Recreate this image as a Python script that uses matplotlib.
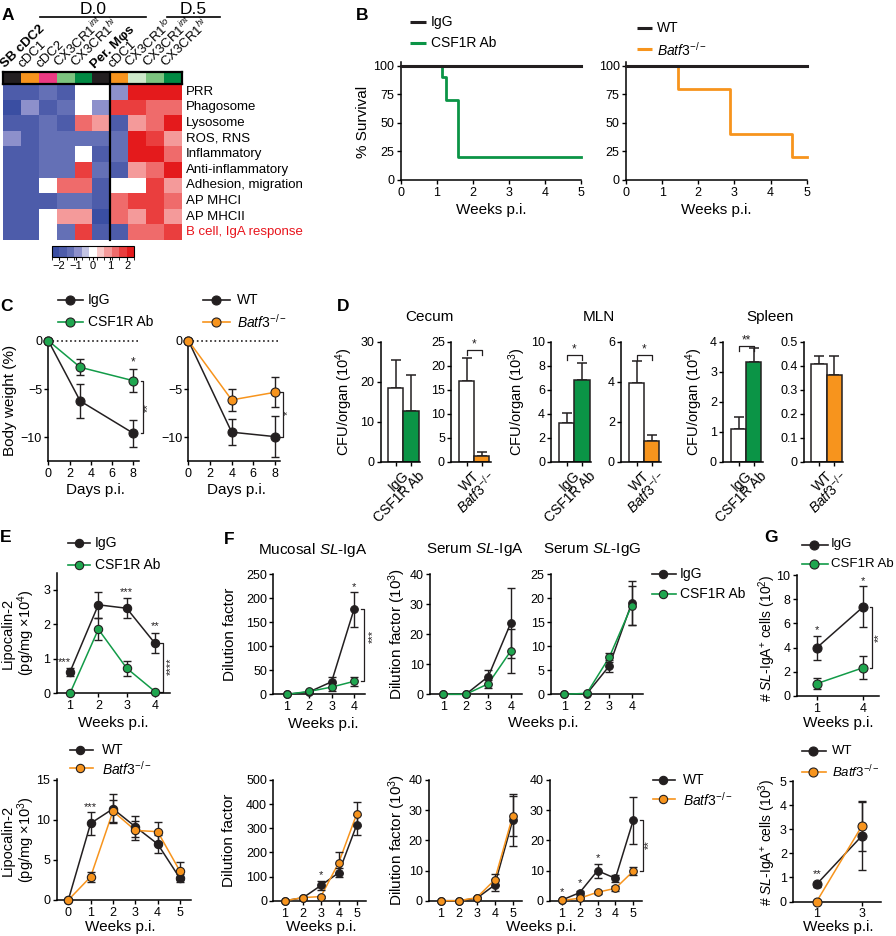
import numpy as np
import matplotlib
matplotlib.use("Agg")
import matplotlib.pyplot as plt
from matplotlib.colors import ListedColormap, BoundaryNorm, to_rgb
from matplotlib.lines import Line2D
from matplotlib.transforms import ScaledTranslation

plt.rcParams["font.family"] = ["Liberation Sans", "DejaVu Sans"]
plt.rcParams["mathtext.fontset"] = "custom"
plt.rcParams["mathtext.rm"] = "Liberation Sans"
plt.rcParams["mathtext.it"] = "Liberation Sans:italic"
plt.rcParams["mathtext.bf"] = "Liberation Sans:bold"
plt.rcParams["axes.linewidth"] = 1.1
plt.rcParams["xtick.labelsize"] = 9
plt.rcParams["ytick.labelsize"] = 9
plt.rcParams["xtick.major.width"] = 1.0
plt.rcParams["ytick.major.width"] = 1.0
plt.rcParams["xtick.major.size"] = 3
plt.rcParams["ytick.major.size"] = 3
plt.rcParams["xtick.major.pad"] = 2
plt.rcParams["ytick.major.pad"] = 1.5

BLACK = "#231f20"
GREEN_LINE = "#129b48"
GREEN_FILL = "#1fa64f"
GREEN_BAR = "#0b9446"
ORANGE = "#f7941d"
RED_TXT = "#e8141c"
BATF = r"$\it{Batf3}^{-/-}$"

# ---------------- data ----------------
# A heatmap
hm_cols = ["SB cDC2", "cDC1", "cDC2", "CX3CR1$^{int}$", "CX3CR1$^{hi}$", "Per. M\u03c6s",
           "cDC1", "CX3CR1$^{lo}$", "CX3CR1$^{int}$", "CX3CR1$^{hi}$"]
hm_bold = [True, False, False, False, False, True, False, False, False, False]
hm_rows = ["PRR", "Phagosome", "Lysosome", "ROS, RNS", "Inflammatory", "Anti-inflammatory",
           "Adhesion, migration", "AP MHCI", "AP MHCII", "B cell, IgA response"]
hm_vals = np.array([
    [-1.75, -1.75, -1.3, -1.75, 0, 0, -0.9, 2.0, 2.0, 2.0],
    [-2.2, -0.9, -1.75, -1.3, 0, -0.9, 1.75, 1.75, 1.3, 1.3],
    [-1.75, -1.75, -1.3, -1.75, 1.3, 0.9, -1.75, 0.9, 1.3, 2.2],
    [-0.9, -1.75, -1.3, -1.3, -1.3, -1.3, -1.3, 2.2, 1.75, 0.9],
    [-1.75, -1.75, -1.3, -1.3, 0, -1.75, -1.3, 2.2, 2.0, 1.3],
    [-1.75, -1.75, -1.3, -1.3, 1.75, -1.3, -1.75, 0.9, 1.3, 2.2],
    [-1.75, -1.75, 0, 1.3, 1.3, -1.75, 0, 0, 1.75, 0.9],
    [-1.75, -1.75, -1.75, -1.3, -1.3, -1.75, 1.3, 1.75, 1.75, 1.3],
    [-1.75, -1.75, 0, 0.9, 0.9, -2.2, 1.3, 0.9, 1.75, 0.9],
    [-1.75, -1.75, 0, -1.3, 1.75, -1.75, -1.75, 1.3, 1.3, 1.75],
])
strip_colors = ["#231f20", "#f7941d", "#ec3a83", "#7cc47f", "#008a43",
                "#231f20", "#f7941d", "#cde8c9", "#7cc47f", "#008a43"]
hm_bins = ["#3a4ea2", "#4d5caa", "#6470b6", "#8d90cb", "#c3c4e3", "#ffffff",
           "#f9c9c9", "#f49a9a", "#ef6b6b", "#ea3e3e", "#e41a1c"]

# B survival
km_ctrl_t = [0, 5]
km_ctrl_s = [100, 100]
km_csf_t = [0, 1.13, 1.26, 1.58, 5]
km_csf_s = [100, 90, 70, 20, 20]
km_batf_t = [0, 1.45, 2.87, 4.58, 5]
km_batf_s = [100, 80, 40, 20, 20]

# C body weight
c_days_a = [0, 3, 8]
c_igg = [0, -6.24, -9.58]
c_igg_err = [0, 1.75, 1.4]
c_csf = [0, -2.75, -4.14]
c_csf_err = [0, 0.85, 1.17]
c_days_b = [0, 4, 8]
c_wt = [0, -9.47, -9.93]
c_wt_err = [0, 1.35, 2.15]
c_batf = [0, -6.13, -5.34]
c_batf_err = [0, 1.12, 1.55]

# D CFU
d_lab_csf = ["IgG", "CSF1R Ab"]
d_lab_batf = ["WT", BATF]
d_cecum_csf = [18.5, 12.75]
d_cecum_csf_err = [6.9, 8.95]
d_cecum_batf = [16.9, 1.25]
d_cecum_batf_err = [4.8, 0.7]
d_mln_csf = [3.25, 6.8]
d_mln_csf_err = [0.78, 1.45]
d_mln_batf = [3.95, 1.05]
d_mln_batf_err = [1.1, 0.3]
d_spl_csf = [1.08, 3.33]
d_spl_csf_err = [0.42, 0.45]
d_spl_batf = [0.407, 0.361]
d_spl_batf_err = [0.033, 0.079]

# E lipocalin
e_weeks_a = [1, 2, 3, 4]
e_igg = [0.62, 2.57, 2.47, 1.45]
e_igg_err = [0.12, 0.38, 0.29, 0.29]
e_csf = [0, 1.86, 0.73, 0.05]
e_csf_err = [0, 0.32, 0.22, 0]
e_weeks_b = [0, 1, 2, 3, 4, 5]
e_wt = [0, 9.58, 11.4, 9.16, 7.0, 2.7]
e_wt_err = [0, 1.4, 1.8, 1.3, 1.15, 0.5]
e_batf = [0, 2.9, 11.1, 8.7, 8.54, 3.6]
e_batf_err = [0, 0.6, 1.4, 1.2, 1.25, 1.1]

# F antibody titres
f_weeks_a = [1, 2, 3, 4]
f_muc_igg = [0, 5, 26, 177]
f_muc_igg_err = [0, 2, 10, 36]
f_muc_csf = [0, 6, 15, 27]
f_muc_csf_err = [0, 2, 8, 10]
f_sia_igg = [0, 0, 5.9, 23.7]
f_sia_igg_err = [0, 0, 2.3, 11.7]
f_sia_csf = [0, 0, 3.5, 14.4]
f_sia_csf_err = [0, 0, 1.3, 7.4]
f_sig_igg = [0, 0.1, 5.9, 19.0]
f_sig_igg_err = [0, 0, 1.2, 4.6]
f_sig_csf = [0, 0.2, 7.7, 18.5]
f_sig_csf_err = [0, 0, 1.0, 4.0]
f_weeks_b = [1, 2, 3, 4, 5]
f_muc_wt = [0, 12, 63, 116, 314]
f_muc_wt_err = [0, 3, 17, 18, 43]
f_muc_batf = [0, 13, 17, 158, 359]
f_muc_batf_err = [0, 3, 4, 45, 48]
f_sia_wt = [0, 0, 0.8, 5.2, 26.7]
f_sia_wt_err = [0, 0, 0.3, 2.0, 8.6]
f_sia_batf = [0, 0, 1.0, 6.9, 28.1]
f_sia_batf_err = [0, 0, 0.3, 1.8, 6.5]
f_sig_wt = [0.2, 2.65, 9.95, 7.4, 26.7]
f_sig_wt_err = [0, 0.6, 2.3, 1.1, 7.8]
f_sig_batf = [0.1, 0.8, 2.8, 4.1, 9.8]
f_sig_batf_err = [0, 0.3, 0.5, 0.8, 1.3]

# G SL-IgA+ cells
g_weeks_a = [1, 4]
g_igg = [3.98, 7.38]
g_igg_err = [1.0, 1.7]
g_csf = [1.02, 2.34]
g_csf_err = [0.45, 0.97]
g_weeks_b = [1, 3]
g_wt = [0.72, 2.72]
g_wt_err = [0.1, 1.4]
g_batf = [0, 3.13]
g_batf_err = [0, 1.05]

# ---------------- figure helpers ----------------
W, H = 896, 936
fig = plt.figure(figsize=(W / 100, H / 100), dpi=100)


def fx(x):
    return x / W


def fy(y):
    return 1 - y / H


def add_ax(x0, x1, y0, y1):
    return fig.add_axes([x0 / W, 1 - y1 / H, (x1 - x0) / W, (y1 - y0) / H])


def ftext(x, y, s, **kw):
    fig.text(fx(x), fy(y), s, **kw)


def fline(xs, ys, **kw):
    fig.add_artist(Line2D([fx(v) for v in xs], [fy(v) for v in ys],
                          transform=fig.transFigure, **kw))


def cal_ax(xa, va, xb, vb, xlim, ya, wa, yb, wb, ylim, xticks, yticks):
    sx = (xb - xa) / (vb - va)
    sy = (yb - ya) / (wb - wa)
    x0 = xa + (xlim[0] - va) * sx
    x1 = xa + (xlim[1] - va) * sx
    ytop = ya + (ylim[1] - wa) * sy
    ybot = ya + (ylim[0] - wa) * sy
    ax = add_ax(x0, x1, ytop, ybot)
    ax.set_xlim(*xlim)
    ax.set_ylim(*ylim)
    ax.set_xticks(xticks)
    ax.set_yticks(yticks)
    ax.spines["top"].set_visible(False)
    ax.spines["right"].set_visible(False)
    ax.patch.set_alpha(0)
    return ax


def series(ax, x, y, err, lc, mfc, ms=6.5, z=3):
    ax.plot(x, y, color=lc, lw=1.1, zorder=z, clip_on=False)
    ax.errorbar(x, y, yerr=err, fmt="none", ecolor=BLACK, elinewidth=1.0,
                capsize=3, capthick=1.0, zorder=z + 0.1, clip_on=False)
    ax.plot(x, y, "o", ms=ms, mfc=mfc, mec=BLACK, mew=0.8, zorder=z + 0.2, clip_on=False)


def star(ax, x, y, s, rot=0, fs=8.5):
    ax.text(x, y, s, ha="center", va="center", rotation=rot, fontsize=fs, color=BLACK)


def vbracket(ax, x, y0, y1, dx, s, tx, ty):
    ax.plot([x - dx, x, x, x - dx], [y0, y0, y1, y1], color=BLACK, lw=0.9, clip_on=False)
    star(ax, tx, ty, s, rot=90, fs=8)


def hbracket(ax, y, dy, s, ys):
    ax.plot([0, 0, 1, 1], [y - dy, y, y, y - dy], color=BLACK, lw=0.9, clip_on=False)
    star(ax, 0.5, ys, s)


def leg_line(x0, x1, y, color, label, xt):
    fline([x0, x1], [y, y], color=color, lw=2.2, solid_capstyle="butt")
    ftext(xt, y, label, ha="left", va="center", fontsize=10)


def leg_marker(x0, x1, xm, y, lc, mfc, label, xt, ms=6.5, fs=10):
    fline([x0, x1], [y, y], color=lc, lw=1.2)
    fig.add_artist(Line2D([fx(xm)], [fy(y)], transform=fig.transFigure, marker="o",
                          ms=ms, mfc=mfc, mec=BLACK, mew=0.8, ls="none"))
    ftext(xt, y, label, ha="left", va="center", fontsize=fs)


def panel(x, y, s):
    ftext(x, y, s, ha="center", va="center", fontsize=12.5, fontweight="bold")


# ---------------- A: heatmap ----------------
hm_cmap = ListedColormap(hm_bins)
hm_norm = BoundaryNorm(np.linspace(-2.4, 2.4, len(hm_bins) + 1), hm_cmap.N)

axh = add_ax(3, 182, 84, 240)
im = axh.imshow(hm_vals, cmap=hm_cmap, norm=hm_norm, aspect="auto", interpolation="nearest")
axh.set_axis_off()

axs = add_ax(3, 182, 72, 84)
axs.imshow(np.array([[to_rgb(c) for c in strip_colors]]), aspect="auto", interpolation="nearest")
axs.set_xticks([])
axs.set_yticks([])
for sp in axs.spines.values():
    sp.set_linewidth(1.6)
fline([110.4, 110.4], [72, 240], color="k", lw=1.6)

cw = 179 / len(hm_cols)
for i, (lab, bold) in enumerate(zip(hm_cols, hm_bold)):
    ftext(3 + cw * i + 2, 68.5, lab, rotation=44, ha="left", va="baseline",
          rotation_mode="anchor", fontsize=9.5, fontweight="bold" if bold else "normal")
rh = 156 / len(hm_rows)
for j, lab in enumerate(hm_rows):
    ftext(186, 84 + rh * (j + 0.5), lab, ha="left", va="center", fontsize=9.5,
          color=RED_TXT if j == len(hm_rows) - 1 else "k")

ftext(93, 9, "D.0", ha="center", va="center", fontsize=12.5)
ftext(193, 9, "D.5", ha="center", va="center", fontsize=12.5)
fline([40, 146], [16.5, 16.5], color="k", lw=1.2)
fline([167, 220], [16.5, 16.5], color="k", lw=1.2)

cax = add_ax(52, 134, 246, 257)
cb = fig.colorbar(im, cax=cax, orientation="horizontal", ticks=[-2, -1, 0, 1, 2])
cb.ax.set_xticklabels(["\u22122", "\u22121", "0", "1", "2"])
cb.ax.tick_params(labelsize=8, length=2, width=0.8, pad=1)
cb.outline.set_linewidth(0.8)
panel(8, 16, "A")

# ---------------- B: survival ----------------
for (x0, x5, t, s, col, wlab, clab, lx0, lx1, lxt, ly) in [
        (400.8, 581.4, km_csf_t, km_csf_s, GREEN_BAR, "IgG", "CSF1R Ab", 410.3, 425.5, 431.2, (21.7, 42.7)),
        (625.9, 806.8, km_batf_t, km_batf_s, ORANGE, "WT", BATF, 636.5, 651.7, 657.4, (27.7, 49.3))]:
    ax = cal_ax(x0, 0, x5, 5, (0, 5), 180, 0, 65.7, 100, (0, 103),
                [0, 1, 2, 3, 4, 5], [0, 25, 50, 75, 100])
    ax.step(t, s, where="post", color=col, lw=2.0, clip_on=False, zorder=3)
    ax.step(km_ctrl_t, km_ctrl_s, where="post", color=BLACK, lw=2.2, clip_on=False, zorder=4)
    ftext((x0 + x5) / 2, 210, "Weeks p.i.", ha="center", va="center", fontsize=11)
    leg_line(lx0, lx1, ly[0], BLACK, wlab, lxt)
    leg_line(lx0, lx1, ly[1], col, clab, lxt)
ftext(362.5, 121.7, "% Survival", rotation=90, ha="center", va="center", fontsize=11)
panel(362.5, 16, "B")

# ---------------- C: body weight ----------------
axc1 = cal_ax(48.3, 0, 133.3, 8, (0, 8.5), 340.7, 0, 437.3, -10, (-12.45, 0.2),
              [0, 2, 4, 6, 8], [0, -5, -10])
axc1.plot([0, 8.5], [0, 0], ls=":", color=BLACK, lw=1.2, zorder=1)
series(axc1, c_days_a, c_igg, c_igg_err, BLACK, BLACK)
series(axc1, c_days_a, c_csf, c_csf_err, GREEN_LINE, GREEN_FILL)
star(axc1, 8, -2.3, "*")
vbracket(axc1, 8.94, c_csf[-1], c_igg[-1], 0.25, "**", 9.4, -6.9)

axc2 = cal_ax(188.4, 0, 275, 8, (0, 8.5), 340.7, 0, 437.3, -10, (-12.45, 0.2),
              [0, 2, 4, 6, 8], [0, -5, -10])
axc2.plot([0, 8.5], [0, 0], ls=":", color=BLACK, lw=1.2, zorder=1)
series(axc2, c_days_b, c_wt, c_wt_err, BLACK, BLACK)
series(axc2, c_days_b, c_batf, c_batf_err, ORANGE, ORANGE)
vbracket(axc2, 8.7, c_batf[-1], c_wt[-1], 0.25, "*", 9.2, -7.5)

ftext(10, 400, "Body weight (%)", rotation=90, ha="center", va="center", fontsize=11)
ftext(95, 490, "Days p.i.", ha="center", va="center", fontsize=11)
ftext(236, 490, "Days p.i.", ha="center", va="center", fontsize=11)
leg_marker(58, 83, 70, 300, BLACK, BLACK, "IgG", 88)
leg_marker(58, 83, 70, 321.7, GREEN_LINE, GREEN_FILL, "CSF1R Ab", 88)
leg_marker(203, 230, 216, 300, BLACK, BLACK, "WT", 237.3)
leg_marker(203, 230, 216, 321.7, ORANGE, ORANGE, BATF, 237.3)
panel(6.7, 306.7, "C")

# ---------------- D: CFU bars ----------------
d_specs = [
    (395.8, d_cecum_csf, d_cecum_csf_err, d_lab_csf, GREEN_BAR, 30, [0, 10, 20, 30], None),
    (466.5, d_cecum_batf, d_cecum_batf_err, d_lab_batf, ORANGE, 25, [0, 5, 10, 15, 20, 25], "*"),
    (566.7, d_mln_csf, d_mln_csf_err, d_lab_csf, GREEN_BAR, 10, [0, 2, 4, 6, 8, 10], "*"),
    (636.5, d_mln_batf, d_mln_batf_err, d_lab_batf, ORANGE, 6, [0, 2, 4, 6], "*"),
    (738.5, d_spl_csf, d_spl_csf_err, d_lab_csf, GREEN_BAR, 4, [0, 1, 2, 3, 4], "**"),
    (819.0, d_spl_batf, d_spl_batf_err, d_lab_batf, ORANGE, 0.5, [0, 0.1, 0.2, 0.3, 0.4, 0.5], None),
]
d_bracket_px = {1: 350, 2: 355, 3: 355, 4: 346}
for k, (xc, vals, errs, labs, col, top, yt, sig) in enumerate(d_specs):
    ax = cal_ax(xc, 0, xc + 15.3, 1, (-1, 1.6), 461.7, 0, 341.7, top, (0, top), [0, 1], yt)
    x = np.arange(2)
    ax.errorbar(x, vals, yerr=[np.zeros(2), errs], fmt="none", ecolor=BLACK,
                elinewidth=1.1, capsize=3.5, capthick=1.1, zorder=1, clip_on=False)
    ax.bar(x, vals, width=1.0, color=["white", col], edgecolor=BLACK, lw=1.1, zorder=2)
    ax.set_yticklabels([("%g" % v) for v in yt])
    ax.set_xticklabels(labs, rotation=45, ha="right", va="top", rotation_mode="anchor", fontsize=10)
    for lab in ax.get_xticklabels():
        lab.set_transform(lab.get_transform() + ScaledTranslation(6 / 100, 0, fig.dpi_scale_trans))
    if sig is not None:
        upp = top / 120.0
        yb = (461.7 - d_bracket_px[k]) / (120.0 / top)
        hbracket(ax, yb, 5 * upp, sig, yb + 6 * upp)

ftext(344, 402, "CFU/organ (10$^4$)", rotation=90, ha="center", va="center", fontsize=10.5)
ftext(517, 402, "CFU/organ (10$^3$)", rotation=90, ha="center", va="center", fontsize=10.5)
ftext(694, 402, "CFU/organ (10$^4$)", rotation=90, ha="center", va="center", fontsize=10.5)
ftext(429.3, 317, "Cecum", ha="center", va="center", fontsize=11)
ftext(599.2, 317, "MLN", ha="center", va="center", fontsize=11)
ftext(769.6, 317, "Spleen", ha="center", va="center", fontsize=11)
panel(343.5, 306.7, "D")

# ---------------- E: lipocalin-2 ----------------
axe1 = cal_ax(70, 1, 155, 4, (0.53, 4.53), 693.3, 0, 590, 3, (0, 3.5), [1, 2, 3, 4], [0, 1, 2, 3])
series(axe1, e_weeks_a, e_igg, e_igg_err, BLACK, BLACK, ms=6)
series(axe1, e_weeks_a, e_csf, e_csf_err, GREEN_LINE, GREEN_FILL, ms=6)
star(axe1, 0.8, 0.92, "***", fs=8)
star(axe1, 3, 2.95, "***", fs=8)
star(axe1, 4, 1.94, "**", fs=8)
vbracket(axe1, 4.29, e_igg[-1], e_csf[-1], 0.1, "****", 4.55, 0.8)

axe2 = cal_ax(68.3, 0, 180, 5, (-0.52, 5.5), 900, 0, 780, 15, (0, 15.1),
              [0, 1, 2, 3, 4, 5], [0, 5, 10, 15])
series(axe2, e_weeks_b, e_wt, e_wt_err, BLACK, BLACK, ms=6)
series(axe2, e_weeks_b, e_batf, e_batf_err, ORANGE, ORANGE, ms=6)
star(axe2, 1, 11.66, "***", fs=8)

ftext(19, 633, "Lipocalin-2\n(pg/mg \u00d710$^4$)", rotation=90, ha="center", va="center",
      fontsize=10.5, linespacing=1.05)
ftext(19, 840, "Lipocalin-2\n(pg/mg \u00d710$^3$)", rotation=90, ha="center", va="center",
      fontsize=10.5, linespacing=1.05)
ftext(113, 723, "Weeks p.i.", ha="center", va="center", fontsize=11)
ftext(120, 927, "Weeks p.i.", ha="center", va="center", fontsize=11)
leg_marker(68, 90, 79, 543.3, BLACK, BLACK, "IgG", 95, ms=6)
leg_marker(68, 90, 79, 565, GREEN_LINE, GREEN_FILL, "CSF1R Ab", 95, ms=6)
leg_marker(70, 93, 80, 750, BLACK, BLACK, "WT", 101.7, ms=6)
leg_marker(70, 93, 80, 768.3, ORANGE, ORANGE, BATF, 101.7, ms=6)
panel(6, 537.5, "E")

# ---------------- F: titres ----------------
xa_t = (0.4, 4.5)
axf1 = cal_ax(286.7, 1, 354, 4, xa_t, 694.3, 0, 574.3, 250, (0, 250), [1, 2, 3, 4], [0, 50, 100, 150, 200, 250])
series(axf1, f_weeks_a, f_muc_igg, f_muc_igg_err, BLACK, BLACK, ms=5.5)
series(axf1, f_weeks_a, f_muc_csf, f_muc_csf_err, GREEN_LINE, GREEN_FILL, ms=5.5)
star(axf1, 4, 224, "*", fs=8)
vbracket(axf1, 4.45, f_muc_igg[-1], f_muc_csf[-1], 0.12, "***", 4.82, 120)

axf2 = cal_ax(443.3, 1, 510.7, 4, xa_t, 694.3, 0, 574.3, 40, (0, 40), [1, 2, 3, 4], [0, 10, 20, 30, 40])
series(axf2, f_weeks_a, f_sia_igg, f_sia_igg_err, BLACK, BLACK, ms=5.5)
series(axf2, f_weeks_a, f_sia_csf, f_sia_csf_err, GREEN_LINE, GREEN_FILL, ms=5.5)

axf3 = cal_ax(564.3, 1, 631.7, 4, xa_t, 694.3, 0, 574.3, 25, (0, 25), [1, 2, 3, 4], [0, 5, 10, 15, 20, 25])
series(axf3, f_weeks_a, f_sig_igg, f_sig_igg_err, BLACK, BLACK, ms=5.5)
series(axf3, f_weeks_a, f_sig_csf, f_sig_csf_err, GREEN_LINE, GREEN_FILL, ms=5.5)

xb_t = (0.35, 5.5)
axf4 = cal_ax(285, 1, 356.7, 5, xb_t, 900.7, 0, 780, 500, (0, 500), [1, 2, 3, 4, 5], [0, 100, 200, 300, 400, 500])
series(axf4, f_weeks_b, f_muc_wt, f_muc_wt_err, BLACK, BLACK, ms=5.5)
series(axf4, f_weeks_b, f_muc_batf, f_muc_batf_err, ORANGE, ORANGE, ms=5.5)
star(axf4, 3, 106, "*", fs=8)

axf5 = cal_ax(440.7, 1, 512.7, 5, xb_t, 900.7, 0, 780, 40, (0, 40), [1, 2, 3, 4, 5], [0, 10, 20, 30, 40])
series(axf5, f_weeks_b, f_sia_wt, f_sia_wt_err, BLACK, BLACK, ms=5.5)
series(axf5, f_weeks_b, f_sia_batf, f_sia_batf_err, ORANGE, ORANGE, ms=5.5)

axf6 = cal_ax(561.7, 1, 633.3, 5, xb_t, 900.7, 0, 780, 40, (0, 40), [1, 2, 3, 4, 5], [0, 10, 20, 30, 40])
series(axf6, f_weeks_b, f_sig_wt, f_sig_wt_err, BLACK, BLACK, ms=5.5)
series(axf6, f_weeks_b, f_sig_batf, f_sig_batf_err, ORANGE, ORANGE, ms=5.5)
star(axf6, 1, 2.9, "*", fs=8)
star(axf6, 2, 5.8, "*", fs=8)
star(axf6, 3, 14.0, "*", fs=8)
vbracket(axf6, 5.52, f_sig_wt[-1], f_sig_batf[-1], 0.15, "**", 5.86, 18.5)

ftext(230, 634, "Dilution factor", rotation=90, ha="center", va="center", fontsize=11)
ftext(229, 840, "Dilution factor", rotation=90, ha="center", va="center", fontsize=11)
ftext(397, 634, "Dilution factor (10$^3$)", rotation=90, ha="center", va="center", fontsize=11)
ftext(397, 840, "Dilution factor (10$^3$)", rotation=90, ha="center", va="center", fontsize=11)
ftext(323.3, 724, "Weeks p.i.", ha="center", va="center", fontsize=11)
ftext(543, 723, "Weeks p.i.", ha="center", va="center", fontsize=11)
ftext(321.7, 926.7, "Weeks p.i.", ha="center", va="center", fontsize=11)
ftext(541.7, 926.7, "Weeks p.i.", ha="center", va="center", fontsize=11)
ftext(313.3, 550, r"Mucosal $\it{SL}$-IgA", ha="center", va="center", fontsize=11)
ftext(475, 550, r"Serum $\it{SL}$-IgA", ha="center", va="center", fontsize=11)
ftext(592, 550, r"Serum $\it{SL}$-IgG", ha="center", va="center", fontsize=11)
leg_marker(652, 676, 663.3, 574, BLACK, BLACK, "IgG", 680, ms=6)
leg_marker(652, 676, 663.3, 594, GREEN_LINE, GREEN_FILL, "CSF1R Ab", 680, ms=6)
leg_marker(653, 675, 663.3, 780, BLACK, BLACK, "WT", 683, ms=6)
leg_marker(653, 675, 663.3, 799.3, ORANGE, ORANGE, BATF, 683, ms=6)
panel(229, 539, "F")

# ---------------- G: SL-IgA+ cells ----------------
axg1 = cal_ax(816.7, 1, 863.3, 4, (-0.3, 5.0), 696, 0, 575, 10, (0, 10), [1, 4], [0, 2, 4, 6, 8, 10])
series(axg1, g_weeks_a, g_igg, g_igg_err, BLACK, BLACK)
series(axg1, g_weeks_a, g_csf, g_csf_err, GREEN_LINE, GREEN_FILL)
star(axg1, 1, 5.45, "*", fs=8)
star(axg1, 4, 9.5, "*", fs=8)
vbracket(axg1, 4.58, g_igg[-1], g_csf[-1], 0.18, "**", 5.02, 4.84)

axg2 = cal_ax(816.7, 1, 861.7, 3, (-0.05, 3.85), 901.5, 0, 781.3, 5, (0, 5), [1, 3], [0, 1, 2, 3, 4, 5])
series(axg2, g_weeks_b, g_wt, g_wt_err, BLACK, BLACK)
series(axg2, g_weeks_b, g_batf, g_batf_err, ORANGE, ORANGE)
star(axg2, 1, 1.13, "**", fs=8)

ftext(767, 638, r"# $\it{SL}$-IgA$^{+}$ cells (10$^{2}$)", rotation=90, ha="center", va="center", fontsize=10)
ftext(767, 842, r"# $\it{SL}$-IgA$^{+}$ cells (10$^{3}$)", rotation=90, ha="center", va="center", fontsize=10)
ftext(838, 722.7, "Weeks p.i.", ha="center", va="center", fontsize=11)
ftext(838, 927, "Weeks p.i.", ha="center", va="center", fontsize=11)
leg_marker(802, 828, 814, 544.5, BLACK, BLACK, "IgG", 831, fs=9.5)
leg_marker(802, 828, 814, 564.3, GREEN_LINE, GREEN_FILL, "CSF1R Ab", 831, fs=9.5)
leg_marker(802, 826, 813, 750.6, BLACK, BLACK, "WT", 832, fs=9.5)
leg_marker(802, 826, 813, 771.5, ORANGE, ORANGE, BATF, 832, fs=9.5)
panel(771, 538, "G")

fig.savefig("out.png", dpi=100)
